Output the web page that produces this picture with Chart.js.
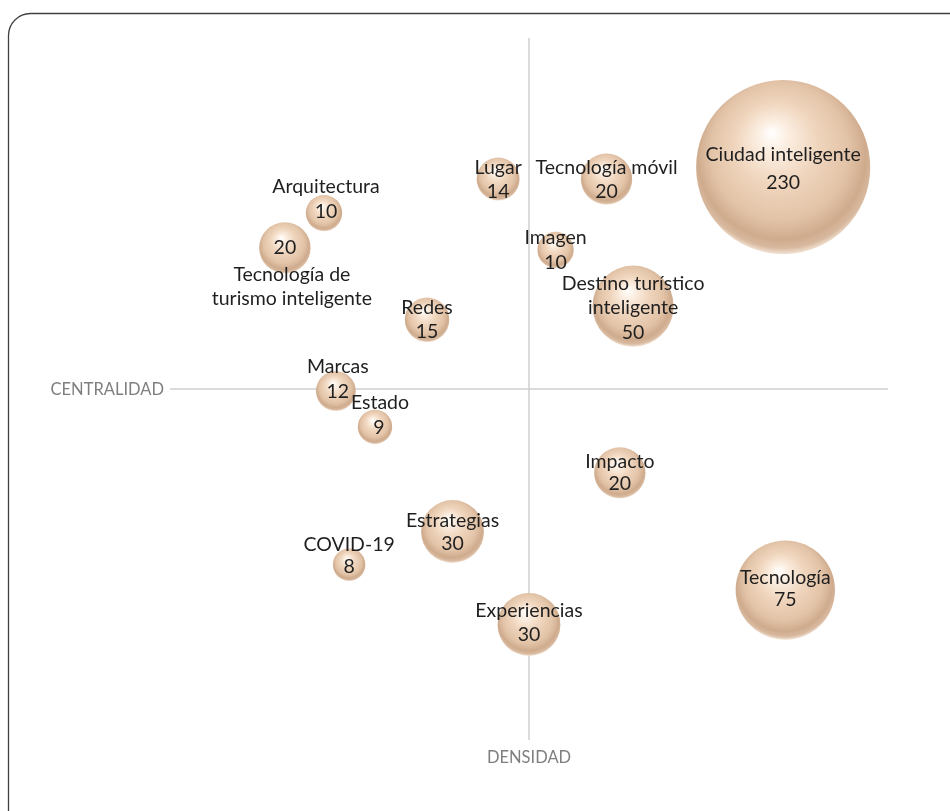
<!DOCTYPE html>
<html>
<head>
<meta charset="utf-8">
<script src="https://cdn.jsdelivr.net/npm/chart.js@4"></script>
<style>
  html, body { margin: 0; padding: 0; background: #fff; }
  #wrap { width: 950px; height: 811px; position: relative; }
</style>
</head>
<body>
<div id="wrap"><canvas id="bubbleChart" width="950" height="811"></canvas></div>
<script>
// === DATA ===
const names = ['Ciudad inteligente', 'Tecnología móvil', 'Lugar', 'Arquitectura',
    'Tecnología de turismo inteligente', 'Imagen', 'Destino turístico inteligente', 'Redes',
    'Marcas', 'Estado', 'Impacto', 'Estrategias', 'COVID-19', 'Tecnología', 'Experiencias'];
const densidad = [70.8, 21.6, -8.6, -57.1, -68.0, 7.4, 29.0, -28.4, -53.8, -42.9, 25.3, -21.3, -50.1, 71.4, 0];
const centralidad = [63.2, 59.8, 59.8, 50.1, 40.2, 39.6, 23.6, 19.7, -0.6, -10.8, -23.9, -40.6, -50.1, -57.3, -67.1];
const sizes = [230, 20, 14, 10, 20, 10, 50, 15, 12, 9, 20, 30, 8, 75, 30];

const xTitle = 'CENTRALIDAD';
const yTitle = 'DENSIDAD';

// bubble area proportional to size (like Excel)
const sizeScale = 5.74;
const radiusOf = (i) => sizeScale * Math.sqrt(sizes[i]);

// label line layout: [line, dx, dy] relative to bubble centre; '#' = value
const labelLayout = [
    [['Ciudad inteligente', 0, -12], ['#', 0, 16]],
    [['Tecnología móvil', 0, -11], ['#', 0, 13]],
    [['Lugar', 0, -11], ['#', 0, 13]],
    [['Arquitectura', 2, -26], ['#', 2, -1]],
    [['#', 0, 0], ['Tecnología de', 7, 27], ['turismo inteligente', 7, 51]],
    [['Imagen', 0, -12], ['#', 0, 13]],
    [['Destino turístico', 0, -22], ['inteligente', 0, 2], ['#', 0, 27]],
    [['Redes', 0, -12], ['#', 0, 12]],
    [['Marcas', 2, -24], ['#', 2, 1]],
    [['Estado', 5, -24], ['#', 4, 1]],
    [['Impacto', 0, -11], ['#', 0, 11]],
    [['Estrategias', 0, -11], ['#', 0, 12]],
    [['COVID-19', 0, -20], ['#', 0, 2]],
    [['Tecnología', 0, -12], ['#', 0, 10]],
    [['Experiencias', 0, -14], ['#', 0, 10]]
];

const points = names.map((n, i) => ({ x: densidad[i], y: centralidad[i], r: radiusOf(i) }));

// Sphere-like fill: highlight top, light reflection on the bottom rim
function sphereFill(context) {
    const chart = context.chart;
    const i = context.dataIndex;
    if (!chart.chartArea || i === undefined) return '#ecd0b8';
    const cx = chart.scales.x.getPixelForValue(densidad[i]);
    const cy = chart.scales.y.getPixelForValue(centralidad[i]);
    const r = radiusOf(i);
    const g = chart.ctx.createRadialGradient(cx - 0.14 * r, cy - 0.4 * r, 0, cx, cy - 0.1 * r, 1.1 * r);
    g.addColorStop(0, '#ffffff');
    g.addColorStop(0.14, '#fcf0e4');
    g.addColorStop(0.42, '#f0d6be');
    g.addColorStop(0.72, '#e2c3a7');
    g.addColorStop(0.88, '#cfab8d');
    g.addColorStop(0.95, '#d8b99f');
    g.addColorStop(1, '#f3e4d6');
    return g;
}

// frame, axes lines, titles
const decorPlugin = {
    id: 'decor',
    beforeDraw(chart) {
        const ctx = chart.ctx;
        ctx.save();
        ctx.strokeStyle = '#404040';
        ctx.lineWidth = 1.3;
        ctx.beginPath();
        ctx.roundRect(8.5, 13.5, 1000, 900, 22);
        ctx.stroke();

        const { left, right, top, bottom } = chart.chartArea;
        const x0 = chart.scales.x.getPixelForValue(0);
        const y0 = chart.scales.y.getPixelForValue(0);
        ctx.strokeStyle = '#d0d0d0';
        ctx.lineWidth = 1.5;
        ctx.beginPath();
        ctx.moveTo(left, y0);
        ctx.lineTo(right, y0);
        ctx.moveTo(x0, top);
        ctx.lineTo(x0, bottom);
        ctx.stroke();

        ctx.fillStyle = '#7f7f7f';
        ctx.font = '16.5px Lato';
        ctx.textBaseline = 'middle';
        ctx.textAlign = 'right';
        ctx.fillText(xTitle, left - 6, y0 + 1);
        ctx.textAlign = 'center';
        ctx.fillText(yTitle, x0, bottom + 18);
        ctx.restore();
    },
    afterDatasetsDraw(chart) {
        const ctx = chart.ctx;
        const meta = chart.getDatasetMeta(0);
        ctx.save();
        ctx.fillStyle = '#1f1f1f';
        ctx.font = '19.5px Lato';
        ctx.textAlign = 'center';
        ctx.textBaseline = 'middle';
        meta.data.forEach((el, i) => {
            labelLayout[i].forEach(([txt, dx, dy]) => {
                const t = txt === '#' ? String(sizes[i]) : txt;
                ctx.fillText(t, el.x + dx, el.y + dy);
            });
        });
        ctx.restore();
    }
};

new Chart(document.getElementById('bubbleChart'), {
    type: 'bubble',
    data: {
        datasets: [{
            label: 'Temas',
            data: points,
            backgroundColor: sphereFill,
            borderWidth: 0,
            hoverBorderWidth: 0,
            clip: false
        }]
    },
    options: {
        responsive: false,
        animation: false,
        events: [],
        layout: { autoPadding: false, padding: { left: 170, right: 62, top: 38, bottom: 71 } },
        plugins: {
            legend: { display: false },
            tooltip: { enabled: false }
        },
        scales: {
            x: { type: 'linear', min: -100, max: 100, display: false },
            y: { type: 'linear', min: -100, max: 100, display: false }
        }
    },
    plugins: [decorPlugin]
});
</script>
</body>
</html>
